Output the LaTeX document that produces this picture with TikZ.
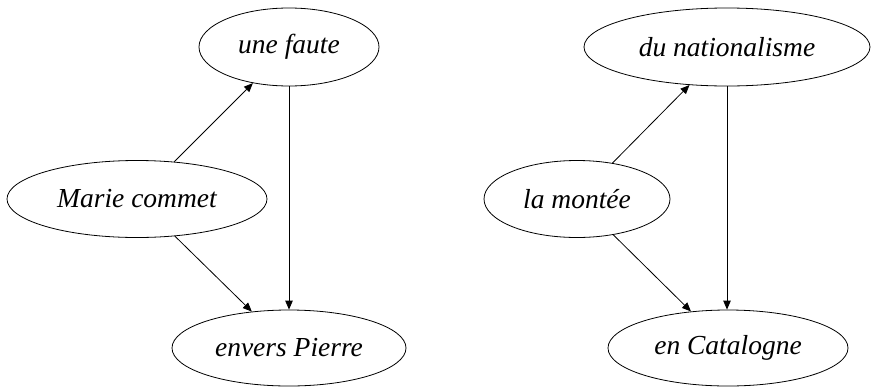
\documentclass[tikz,border=0pt]{standalone}
\usepackage{fontspec}
\setmainfont{Liberation Serif}
\usetikzlibrary{shapes.geometric,arrows.meta}
\begin{document}
\begin{tikzpicture}[x=1pt,y=-1pt,
  ell/.style={draw,ellipse,inner sep=0pt,line width=0.8pt,font=\fontsize{27.5}{32}\selectfont\itshape},
  arr/.style={line width=0.8pt,-{Triangle[length=9pt,width=7.5pt]}}]
\useasboundingbox (0,0) rectangle (872,386);
\node[ell,minimum width=180pt,minimum height=78pt] (faute) at (289,47) {une faute};
\node[ell,minimum width=260pt,minimum height=77pt] (marie) at (137,199) {Marie commet};
\node[ell,minimum width=234pt,minimum height=76pt] (envers) at (289,348) {envers Pierre};
\node[ell,minimum width=286pt,minimum height=78pt] (nat) at (727,47) {du nationalisme};
\node[ell,minimum width=186pt,minimum height=77pt] (montee) at (577,199) {la montée};
\node[ell,minimum width=240pt,minimum height=76pt] (cat) at (728,348) {en Catalogne};
\draw[arr] (marie) -- (faute);
\draw[arr] (marie) -- (envers);
\draw[arr] (faute) -- (envers);
\draw[arr] (montee) -- (nat);
\draw[arr] (montee) -- (cat);
\draw[arr] (nat.south) -- (nat.south |- cat.north);
\end{tikzpicture}
\end{document}
